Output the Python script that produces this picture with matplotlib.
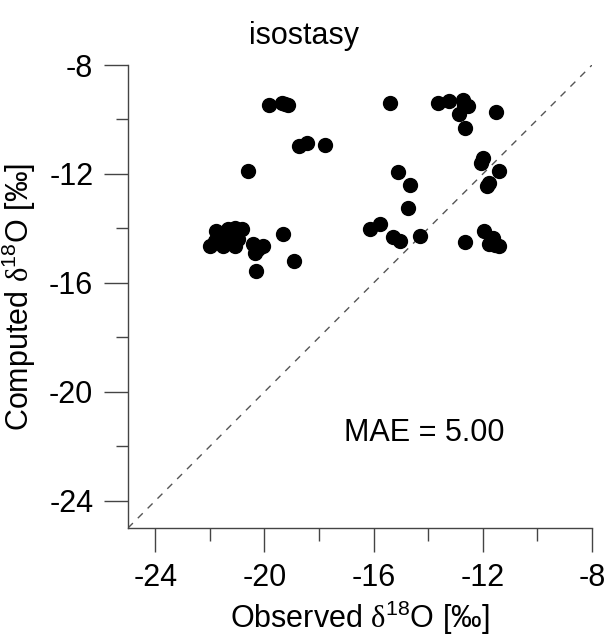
import matplotlib
matplotlib.use("Agg")
import matplotlib.pyplot as plt
from matplotlib.ticker import MultipleLocator

plt.rcParams['font.family'] = ['Liberation Sans', 'DejaVu Sans']
plt.rcParams['axes.unicode_minus'] = False
plt.rcParams['mathtext.fontset'] = 'custom'
plt.rcParams['mathtext.rm'] = 'Liberation Sans'
plt.rcParams['mathtext.it'] = 'Liberation Sans:italic'
plt.rcParams['mathtext.cal'] = 'Liberation Serif'

# observed vs computed d18O (permil)
observed = [
    -19.85, -19.35, -19.12, -19.25,
    -18.72, -18.45, -17.80,
    -20.60,
    -22.00, -21.76, -21.82, -21.52, -21.33, -21.09, -20.84, -21.21, -21.09,
    -20.97, -21.60, -21.40, -20.42, -20.36, -20.05, -20.25, -19.32, -18.92,
    -20.30,
    -15.40,
    -15.12, -14.65, -14.73,
    -16.15, -15.75, -15.30, -15.02, -14.32,
    -13.65, -13.23, -12.74, -12.56, -12.89, -12.64, -11.50, -12.70,
    -12.01, -12.07, -11.42, -11.76, -11.85,
    -12.64, -11.95, -11.64, -11.76, -11.40, -11.55,
]
computed = [
    -9.45, -9.40, -9.45, -9.42,
    -10.98, -10.86, -10.92,
    -11.88,
    -14.64, -14.09, -14.46, -14.64, -14.03, -13.97, -14.03, -14.46, -14.64,
    -14.40, -14.30, -14.20, -14.58, -14.89, -14.64, -14.75, -14.22, -15.19,
    -15.56,
    -9.40,
    -11.94, -12.39, -13.24,
    -14.01, -13.83, -14.30, -14.46, -14.28,
    -9.40, -9.32, -9.28, -9.52, -9.80, -10.31, -9.71, -9.45,
    -11.41, -11.59, -11.90, -12.33, -12.45,
    -14.49, -14.09, -14.34, -14.58, -14.64, -14.60,
]
limits = [-25, -8]
major_ticks = [-24, -20, -16, -12, -8]
mae = 5.00
title = "isostasy"

axis_col = '#444444'
fs = 22

fig = plt.figure(figsize=(6.08, 6.40), dpi=100)
ax = fig.add_axes([0.2105, 0.175, 0.7632, 0.7234])

# 1:1 line
ax.plot(limits, limits, linestyle=(0, (5, 5)), color='#555555', linewidth=1.0, zorder=1)
ax.plot(observed, computed, 'o', color='black', markersize=10, zorder=2)

ax.set_xlim(limits)
ax.set_ylim(limits)
ax.set_xticks(major_ticks)
ax.set_yticks(major_ticks)
ax.xaxis.set_minor_locator(MultipleLocator(2))
ax.yaxis.set_minor_locator(MultipleLocator(2))
ax.tick_params(which='major', direction='out', length=17, width=1.0, color=axis_col,
               labelsize=fs, pad=8)
ax.tick_params(which='minor', direction='out', length=9, width=1.0, color=axis_col)

for side in ['top', 'right']:
    ax.spines[side].set_visible(False)
for side in ['left', 'bottom']:
    ax.spines[side].set_color(axis_col)
    ax.spines[side].set_linewidth(1.0)

ax.set_xlabel(r'Observed $\mathcal{\delta}^{18}$O [‰]', fontsize=fs, labelpad=4)
ax.set_ylabel(r'Computed $\mathcal{\delta}^{18}$O [‰]', fontsize=fs, labelpad=8)

ax.text(-17.1, -21.8, f'MAE = {mae:.2f}', fontsize=fs, ha='left', va='baseline')
fig.text(0.5, 1 - 44 / 640, title, fontsize=fs, ha='center', va='baseline')

fig.savefig('out.png', dpi=100)
